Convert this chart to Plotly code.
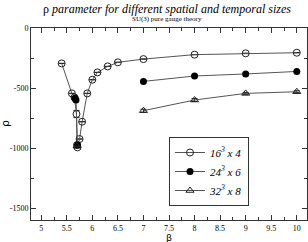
import plotly.graph_objects as go

# 16^3 x 4 (open circles)
beta16 = [5.4, 5.6, 5.65, 5.69, 5.70, 5.71, 5.75, 5.8, 5.9, 6.0, 6.1, 6.3, 6.5, 7.0, 8.0, 9.0, 10.0]
rho16 = [-295, -545, -578, -717, -975, -995, -925, -781, -545, -431, -370, -320, -286, -259, -222, -211, -206]
err16 = [0, 0, 0, 30, 0, 0, 0, 0, 0, 0, 0, 0, 0, 0, 0, 0, 0]

# 24^3 x 6 (filled circles)
beta24 = [5.66, 5.68, 5.71, None, 7.0, 8.0, 9.0, 10.0]
rho24 = [-585, -600, -975, None, -445, -400, -383, -362]

# 32^3 x 8 (open triangles)
beta32 = [5.70, None, 7.0, 8.0, 9.0, 10.0]
rho32 = [-985, None, -689, -600, -545, -531]
err32 = [0, 0, 12, 12, 8, 8]

names = ["16<sup>3</sup> x 4", "24<sup>3</sup> x 6", "32<sup>3</sup> x 8"]

xticks = [5, 5.5, 6, 6.5, 7, 7.5, 8, 8.5, 9, 9.5, 10]
xticklabels = ["5", "5.5", "6", "6.5", "7", "7.5", "8", "8.5", "9", "9.5", "10"]
yticks = [-1500, -1000, -500, 0]
yticklabels = ["-1500", "-1000", "-500", "0"]

SERIF = "Liberation Serif"
C = "#222222"
W, H = 308, 242
ML, MR, MT, MB = 31, 1, 28, 22
PW, PH = W - ML - MR, H - MT - MB

fig = go.Figure()
fig.add_trace(go.Scatter(
    x=beta16, y=rho16, name=names[0], mode="lines+markers",
    line=dict(color="#555555", width=1),
    marker=dict(symbol="circle-open", size=7, color=C, line=dict(width=1)),
    error_y=dict(type="data", array=err16, color=C, thickness=1, width=3),
))
fig.add_trace(go.Scatter(
    x=beta24, y=rho24, name=names[1], mode="lines+markers", connectgaps=False,
    line=dict(color="#555555", width=1),
    marker=dict(symbol="circle", size=7, color="black"),
))
fig.add_trace(go.Scatter(
    x=beta32, y=rho32, name=names[2], mode="lines+markers", connectgaps=False,
    line=dict(color="#555555", width=1),
    marker=dict(symbol="triangle-up-open", size=7, color=C, line=dict(width=1)),
    error_y=dict(type="data", array=err32, color=C, thickness=1, width=3),
))

axis_common = dict(
    showgrid=False, zeroline=False, showline=True, linecolor="#333333", linewidth=1,
    mirror="ticks", ticks="inside", ticklen=5, tickcolor="#333333",
    tickfont=dict(family=SERIF, size=8, color="black"), automargin=False,
)

fig.update_xaxes(
    range=[4.8, 10.2], tickvals=xticks, ticktext=xticklabels,
    minor=dict(ticks="inside", ticklen=3, dtick=0.25, tick0=0, tickcolor="#333333"),
    **axis_common,
)
fig.update_yaxes(
    range=[-1600, 0], tickvals=yticks, ticktext=yticklabels,
    minor=dict(ticks="inside", ticklen=3, dtick=250, tick0=0, tickcolor="#333333"),
    **axis_common,
)

def px_x(px):
    return (px - ML) / PW

def px_y(py):
    return (H - MB - py) / PH

def ann(text, x, y, size, family=SERIF, angle=0):
    return dict(text=text, x=px_x(x), y=px_y(y), xref="paper", yref="paper",
                xanchor="center", yanchor="middle", showarrow=False, textangle=angle,
                font=dict(family=family, size=size, color="black"))

fig.update_layout(
    width=W, height=H,
    margin=dict(l=ML, r=MR, t=MT, b=MB, autoexpand=False),
    paper_bgcolor="white", plot_bgcolor="white",
    showlegend=True,
    legend=dict(
        x=px_x(169), y=px_y(137), xanchor="left", yanchor="top",
        bgcolor="white", bordercolor="#333333", borderwidth=1,
        font=dict(family=SERIF, size=11, color="black", style="italic"),
        tracegroupgap=0, itemwidth=30,
    ),
    annotations=[
        ann("ρ <i>parameter for different spatial and temporal sizes</i>", 167, 8.5, 12),
        ann("SU(3) pure gauge theory", 167, 19, 7),
        ann("β", 169, 237, 9.5, family="DejaVu Sans"),
        ann("ρ", 5, 124, 11, family="DejaVu Sans", angle=-90),
    ],
)

fig.write_html(
    "out.html",
    config={"displayModeBar": False},
    post_script="document.body.style.margin='0';document.body.style.overflow='hidden';",
)
